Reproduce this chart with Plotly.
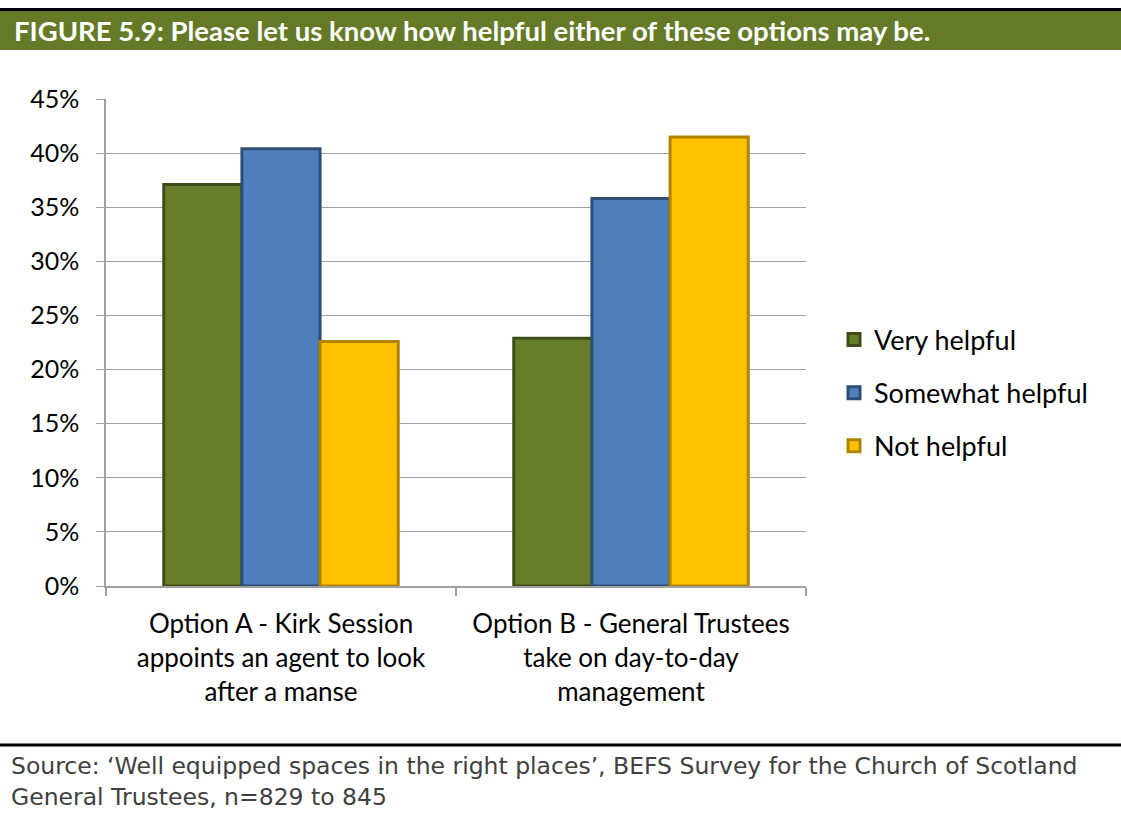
import plotly.graph_objects as go

categories = [
    "Option A - Kirk Session<br>appoints an agent to look<br>after a manse",
    "Option B - General Trustees<br>take on day-to-day<br>management",
]
series_names = ["Very helpful", "Somewhat helpful", "Not helpful"]
very_helpful = [37.1, 22.9]
somewhat_helpful = [40.4, 35.8]
not_helpful = [22.6, 41.5]
y_ticks = [0, 5, 10, 15, 20, 25, 30, 35, 40, 45]
y_tick_labels = [f"{v}%" for v in y_ticks]

title_text = "FIGURE 5.9: Please let us know how helpful either of these options may be."
source_text = ("Source: \u2018Well equipped spaces in the right places\u2019, BEFS Survey for the Church of Scotland"
               "<br>General Trustees, n=829 to 845")

fills = ["#657C28", "#4F7FBD", "#FFC000"]
edges = ["#3E4D17", "#2E4E78", "#B08400"]

FONT = "Lato"

fig = go.Figure()
for name, vals, fc, ec in zip(series_names, [very_helpful, somewhat_helpful, not_helpful], fills, edges):
    fig.add_trace(go.Bar(
        x=categories, y=vals, name=name,
        marker=dict(color=fc, line=dict(color=ec, width=3)),
        legendgroup=name,
    ))

W, H = 1121, 813
L, R, T, B = 106, 806, 99, 586
pw, ph = R - L, B - T

def px_x(x):
    return (x - L) / pw

def px_y(y):
    return (B - y) / ph

shapes = [
    dict(type="rect", xref="paper", yref="paper", x0=px_x(0), x1=px_x(W),
         y0=px_y(50), y1=px_y(11), fillcolor="#647A27", line=dict(width=0), layer="below"),
    dict(type="line", xref="paper", yref="paper", x0=px_x(0), x1=px_x(W),
         y0=px_y(9.5), y1=px_y(9.5), line=dict(color="black", width=3)),
    dict(type="line", xref="paper", yref="paper", x0=px_x(0), x1=px_x(W),
         y0=px_y(745), y1=px_y(745), line=dict(color="black", width=3)),
]

annotations = [
    dict(text=f"<b>{title_text}</b>", xref="paper", yref="paper", x=px_x(12), y=px_y(31),
         xanchor="left", yanchor="middle", showarrow=False,
         font=dict(family=FONT, size=27.5, color="white")),
    dict(text=source_text, xref="paper", yref="paper", x=px_x(10), y=px_y(781),
         xanchor="left", yanchor="middle", showarrow=False, align="left", borderpad=0,
         font=dict(family="DejaVu Sans", size=23.5, color="#404040")),
]

fig.update_layout(
    width=W, height=H,
    margin=dict(l=L, r=W - R, t=T, b=H - B, autoexpand=False),
    paper_bgcolor="white", plot_bgcolor="white",
    barmode="group", bargap=0.33, bargroupgap=0,
    font=dict(family=FONT, size=26, color="black"),
    showlegend=True,
    legend=dict(x=px_x(834), y=px_y(393), xanchor="left", yanchor="middle",
                font=dict(family=FONT, size=27, color="black"),
                tracegroupgap=15, bgcolor="rgba(0,0,0,0)"),
    shapes=shapes, annotations=annotations,
    xaxis=dict(showline=True, linecolor="#A0A0A0", linewidth=2,
               ticks="outside", tickson="boundaries", ticklen=8, tickcolor="#A0A0A0",
               tickwidth=2, tickfont=dict(family=FONT, size=26, color="black"),
               ticklabelstandoff=14, showgrid=False),
    yaxis=dict(range=[0, 45], tickvals=y_ticks, ticktext=y_tick_labels,
               showline=True, linecolor="#A0A0A0", linewidth=1.5,
               ticks="outside", ticklen=8, tickcolor="#A0A0A0",
               showgrid=True, gridcolor="#A0A0A0", gridwidth=1.2,
               tickfont=dict(family=FONT, size=25, color="black"),
               ticklabelstandoff=12, zeroline=False),
)

fig.write_html("out.html")
